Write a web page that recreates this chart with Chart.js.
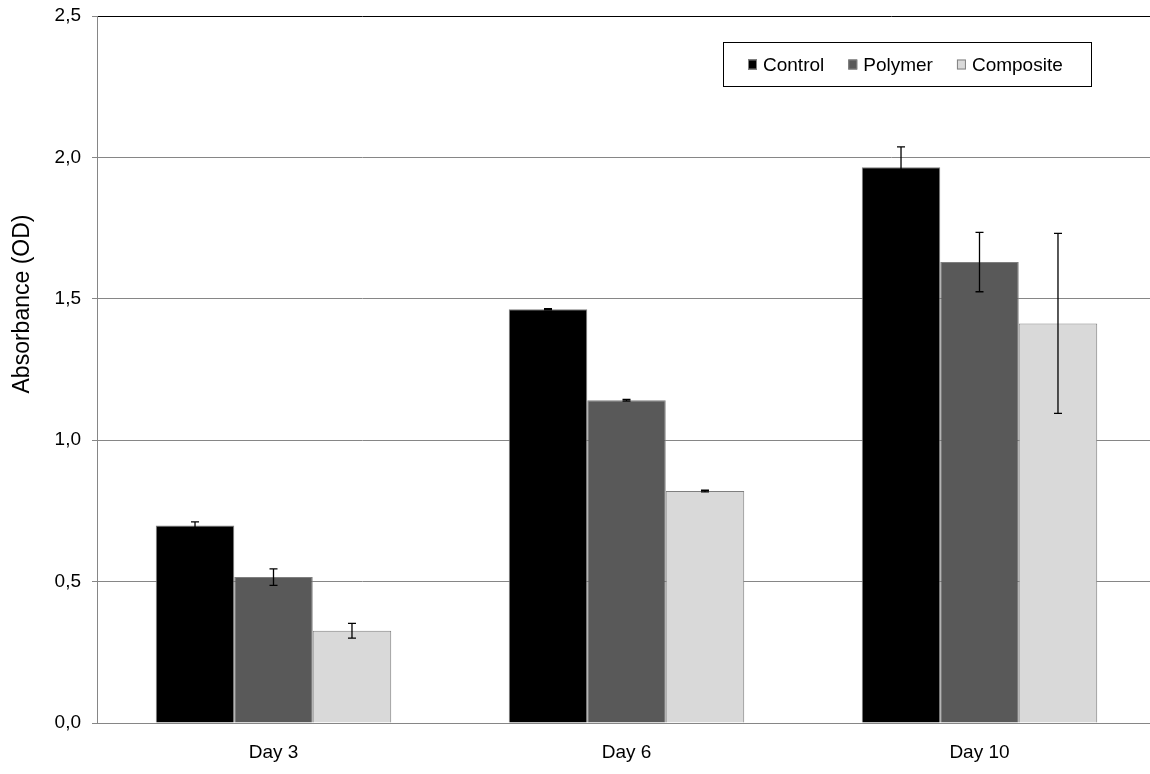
<!DOCTYPE html>
<html>
<head>
<meta charset="utf-8">
<script src="https://cdn.jsdelivr.net/npm/chart.js@4"></script>
<style>
  html, body { margin: 0; padding: 0; background: #ffffff; overflow: hidden; width: 1150px; height: 774px; }
  canvas { display: block; }
</style>
</head>
<body>
<canvas id="c" width="1156" height="774"></canvas>
<script>
// ---- data ----
const categories = ['Day 3', 'Day 6', 'Day 10'];
const seriesNames = ['Control', 'Polymer', 'Composite'];
const controlValues   = [0.698, 1.463, 1.965];
const polymerValues   = [0.516, 1.141, 1.630];
const compositeValues = [0.326, 0.820, 1.413];
const controlErrors   = [0.013, 0.002, 0.072];
const polymerErrors   = [0.029, 0.003, 0.105];
const compositeErrors = [0.026, 0.003, 0.318];
const yTickLabels = ['0,0', '0,5', '1,0', '1,5', '2,0', '2,5'];
const yTitle = 'Absorbance (OD)';
const yMin = 0, yMax = 2.5, yStep = 0.5;

const FONT = "'Liberation Sans', Arial, sans-serif";
const colors = ['#000000', '#595959', '#d9d9d9'];

const errorBarPlugin = {
  id: 'errorBars',
  afterDatasetsDraw(chart) {
    const ctx = chart.ctx;
    const yScale = chart.scales.y;
    ctx.save();
    ctx.strokeStyle = '#000000';
    ctx.lineWidth = 1.3;
    chart.data.datasets.forEach((ds, di) => {
      const meta = chart.getDatasetMeta(di);
      meta.data.forEach((bar, i) => {
        const v = ds.data[i], e = ds.errors[i];
        const x = bar.x;
        const yTop = yScale.getPixelForValue(v + e);
        const yBot = yScale.getPixelForValue(v - e);
        const cap = 4;
        ctx.beginPath();
        ctx.moveTo(x, yTop); ctx.lineTo(x, yBot);
        ctx.moveTo(x - cap, yTop); ctx.lineTo(x + cap, yTop);
        ctx.moveTo(x - cap, yBot); ctx.lineTo(x + cap, yBot);
        ctx.stroke();
      });
    });
    ctx.restore();
  }
};

const titleAndLegendPlugin = {
  id: 'boxLegend',
  afterDraw(chart) {
    const ctx = chart.ctx;
    ctx.save();
    // y axis title
    ctx.save();
    ctx.translate(23, 304);
    ctx.rotate(-Math.PI / 2);
    ctx.font = '23px ' + FONT;
    ctx.fillStyle = '#000000';
    ctx.textAlign = 'center';
    ctx.textBaseline = 'middle';
    ctx.fillText(yTitle, 0, 0);
    ctx.restore();

    // legend box
    const boxL = 723.5, boxT = 42.5, boxR = 1091.5, boxB = 86.5;
    ctx.fillStyle = '#ffffff';
    ctx.fillRect(boxL, boxT, boxR - boxL, boxB - boxT);
    ctx.strokeStyle = '#000000';
    ctx.lineWidth = 1;
    ctx.strokeRect(boxL, boxT, boxR - boxL, boxB - boxT);
    ctx.font = '19px ' + FONT;
    ctx.textBaseline = 'middle';
    ctx.textAlign = 'left';
    let x = 748;
    const cy = 64.5;
    chart.data.datasets.forEach((ds) => {
      ctx.fillStyle = ds.backgroundColor;
      ctx.fillRect(x, cy - 5, 9, 10);
      ctx.strokeStyle = '#808080';
      ctx.strokeRect(x + 0.5, cy - 4.5, 8, 9);
      ctx.fillStyle = '#000000';
      const tx = x + 15;
      ctx.fillText(ds.label, tx, cy + 1);
      x = tx + ctx.measureText(ds.label).width + 24;
    });
    ctx.restore();
  }
};

const datasets = [controlValues, polymerValues, compositeValues].map((vals, i) => ({
  label: seriesNames[i],
  data: vals,
  errors: [controlErrors, polymerErrors, compositeErrors][i],
  backgroundColor: colors[i],
  borderColor: '#7f7f7f',
  borderWidth: 1,
  categoryPercentage: 0.667,
  barPercentage: 1.0
}));

new Chart(document.getElementById('c'), {
  type: 'bar',
  data: { labels: categories, datasets },
  plugins: [errorBarPlugin, titleAndLegendPlugin],
  options: {
    responsive: false,
    animation: false,
    devicePixelRatio: 1,
    layout: { padding: { top: 16, right: 0, left: 0, bottom: 0 } },
    plugins: { legend: { display: false }, tooltip: { enabled: false } },
    scales: {
      x: {
        grid: { display: false, drawTicks: false },
        border: { display: true, color: '#868686', width: 1 },
        ticks: { color: '#000000', font: { family: FONT, size: 19 }, padding: 18 },
        afterFit(scale) {
          scale.height = 51;
          scale.paddingLeft = 0; scale.paddingRight = 0;
        }
      },
      y: {
        min: yMin, max: yMax,
        grid: {
          color: (c) => (c.tick && c.tick.value === yMax ? '#000000' : '#868686'),
          tickColor: '#868686',
          tickLength: 5,
          lineWidth: 1
        },
        border: { display: true, color: '#868686', width: 1 },
        ticks: {
          stepSize: yStep,
          padding: 11,
          color: '#000000',
          font: { family: FONT, size: 19 },
          callback: (v, i) => yTickLabels[i]
        },
        title: { display: false },
        afterFit(scale) {
          scale.width = 97;
          scale.paddingTop = 0; scale.paddingBottom = 0;
        }
      }
    }
  }
});
</script>
</body>
</html>
